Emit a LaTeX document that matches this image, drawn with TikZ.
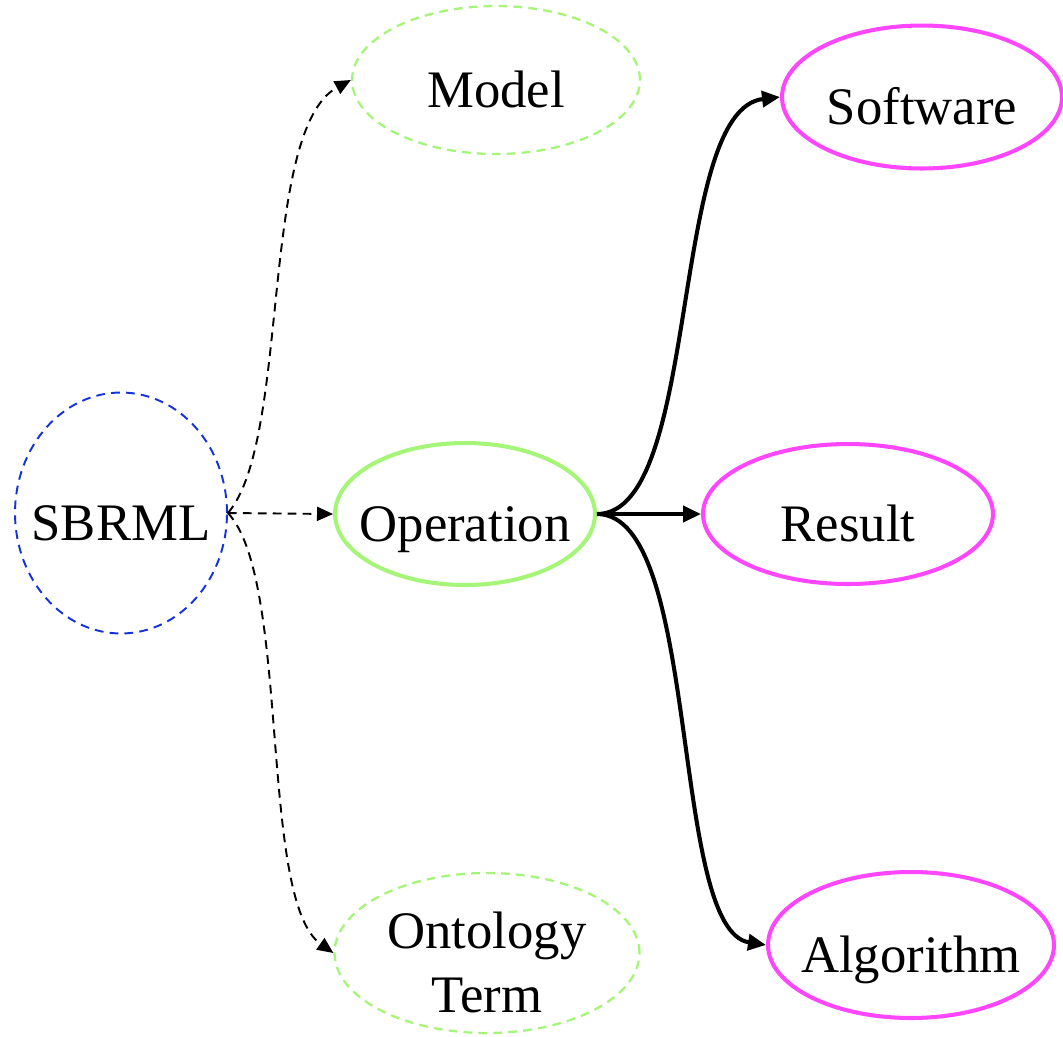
\documentclass[tikz,border=0pt]{standalone}
\usepackage{fontspec}
\setmainfont{Liberation Serif}
\usetikzlibrary{shapes.geometric,arrows.meta}
\definecolor{sbblue}{RGB}{20,50,220}
\definecolor{lightgreen}{RGB}{165,245,120}
\definecolor{outpink}{RGB}{255,70,255}
% label that does not widen its ellipse
\newcommand{\lbl}[1]{\makebox[0pt]{\raisebox{-0.52cm}[0pt][0pt]{\begin{tabular}{@{}c@{}}#1\end{tabular}}}}
\tikzset{
	entity/.style = {
		ellipse,
		inner sep = 0pt,
		font      = \fontsize{30}{36.3}\selectfont
	},
	root/.style      = {entity, draw = sbblue, line width = 1.1pt, dash pattern = on 5pt off 3.5pt},
	context/.style   = {entity, draw = lightgreen, line width = 1.3pt, dash pattern = on 5pt off 3.5pt},
	operation/.style = {entity, draw = lightgreen, line width = 2.3pt},
	output/.style    = {entity, draw = outpink, line width = 2.3pt},
	link/.style      = {line width = 1.1pt, dash pattern = on 5pt off 3.5pt, -{Triangle[length=0.32cm, width=0.28cm]}},
	flow/.style      = {line width = 2.3pt, -{Triangle[length=0.36cm, width=0.32cm]}}
}

\begin{document}
\begin{tikzpicture}[x = 0.02cm, y = -0.02cm]
	\useasboundingbox (0,0) rectangle (1063,1036);
	% left part
	\node (sbrml) [root, minimum width = 4.24cm, minimum height = 4.82cm] at (121,513) {\lbl{SBRML}};
	\node (model) [context, minimum width = 5.76cm, minimum height = 2.96cm] at (496,80) {\lbl{Model}};
	\node (operation) [operation, minimum width = 5.2cm, minimum height = 2.84cm] at (465,514) {\lbl{Operation}};
	\node (term) [context, minimum width = 6.1cm, minimum height = 3.2cm] at (487,953) {\lbl{Ontology\\Term}};
	% right part
	\node (software) [output, minimum width = 5.6cm, minimum height = 2.86cm] at (922,97) {\lbl{Software}};
	\node (result) [output, minimum width = 5.8cm, minimum height = 2.8cm] at (848,514) {\lbl{Result}};
	\node (algorithm) [output, minimum width = 5.72cm, minimum height = 2.92cm] at (911,945) {\lbl{Algorithm}};
	
	\draw[link] (sbrml.east) .. controls +(63,-73) and +(-92,50) .. (model.west);
	\draw[link] (sbrml.east) -- (operation.west);
	\draw[link] (sbrml.east) .. controls +(63,67) and +(-75,-53) .. (term.west);
	
	\draw[flow] (operation.east) .. controls +(105,0) and +(-112,13) .. (software.west);
	\draw[flow] (operation.east) -- (result.west);
	\draw[flow] (operation.east) .. controls +(105,0) and +(-97,-15) .. (algorithm.west);
	
\end{tikzpicture}
\end{document}
